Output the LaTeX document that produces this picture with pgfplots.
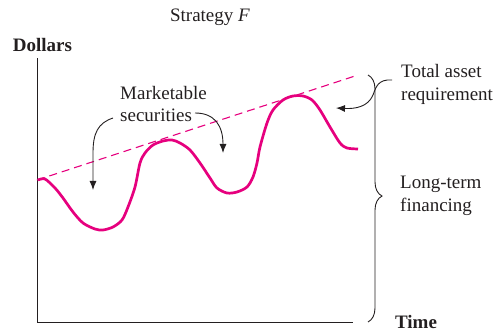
\documentclass[border=0pt]{standalone}
\usepackage{fontspec}
\setmainfont{Liberation Serif}
\usepackage{pgfplots}
\pgfplotsset{compat=1.18}
\usetikzlibrary{decorations.pathreplacing,arrows.meta}
\definecolor{mag}{HTML}{E6007E}
\definecolor{ink}{HTML}{231F20}
\begin{document}
\fontsize{19}{22.5}\selectfont
\begin{tikzpicture}
\begin{axis}[
  x=1pt, y=1pt,
  xmin=37, xmax=353, ymin=9, ymax=273,
  axis lines=left,
  axis line style={-, line width=0.9pt, color=ink},
  xtick=\empty, ytick=\empty,
  clip=false,
]
\path (axis cs:0,0) rectangle (axis cs:494,331);
% total asset requirement (dashed)
\addplot[mag, line width=1.1pt, dash pattern=on 8pt off 5pt] coordinates {(37,151) (358,256)};
% curve
\addplot[mag, line width=2.7pt, smooth, tension=0.5] coordinates {
(38,151) (45,152) (55,143) (63,133) (73,119) (83,108) (95,102) (103,101)
(113,104) (122,111) (128,124) (135,144) (140,168) (145,178) (153,186)
(163,190) (172,191) (180,188) (190,181) (200,168) (210,153) (217,143)
(227,138) (237,139) (247,144) (253,154) (257,168) (260,184) (267,208)
(273,221) (283,231) (293,235) (303,235) (312,231) (320,221) (330,204)
(340,188) (347,183) (358,182)};
% brace
\draw[ink, line width=0.9pt, decorate, decoration={brace, amplitude=14pt, aspect=0.49}]
  (axis cs:368,256) -- (axis cs:368,9);
% arrows
\draw[ink, line width=0.9pt, -{Latex[length=9pt,width=7pt]}]
  (axis cs:113,213) .. controls (axis cs:98,208) and (axis cs:93,198) .. (axis cs:93,178) -- (axis cs:93,141);
\draw[ink, line width=0.9pt, -{Latex[length=9pt,width=7pt]}]
  (axis cs:195,218) .. controls (axis cs:215,218) and (axis cs:223,205) .. (axis cs:223,178);
\draw[ink, line width=0.9pt, -{Latex[length=9pt,width=7pt]}]
  (axis cs:392,251) .. controls (axis cs:378,252) and (axis cs:376,244) .. (axis cs:373,236)
  .. controls (axis cs:368,224) and (axis cs:355,222) .. (axis cs:336,223);
% labels
\node[ink] at (axis cs:210,314) {Strategy \textit{F}};
\node[ink, font=\bfseries] at (axis cs:42.5,286) {Dollars};
\node[ink, font=\bfseries] at (axis cs:416,9) {Time};
\node[ink, anchor=west, align=left, inner sep=0pt] at (axis cs:401,246.5) {Total asset\\requirement};
\node[ink, anchor=west, align=left, inner sep=0pt] at (axis cs:400,135) {Long-term\\financing};
\node[ink, anchor=west, align=left, inner sep=0pt] at (axis cs:120,227) {Marketable\\securities};
\end{axis}
\end{tikzpicture}
\end{document}
